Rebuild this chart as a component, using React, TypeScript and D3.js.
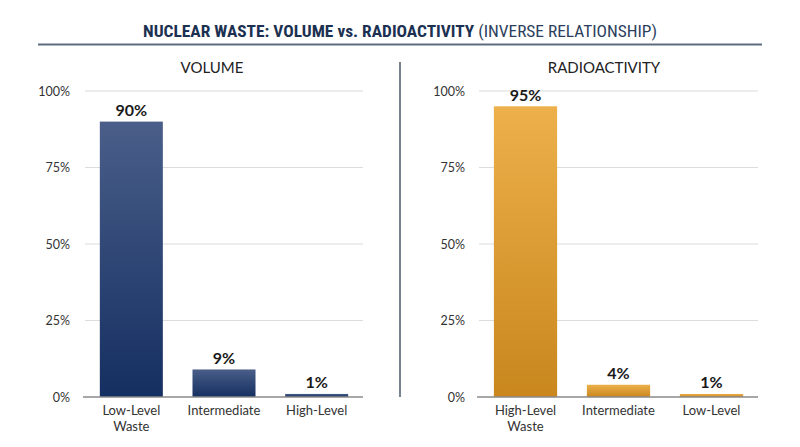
import { useMemo } from "react";
import * as d3 from "d3";

const volumeCategories = ["Low-Level|Waste", "Intermediate", "High-Level"];
const volumeValues = [90, 9, 1];
const radioCategories = ["High-Level|Waste", "Intermediate", "Low-Level"];
const radioValues = [95, 4, 1];
const yTicks = [0, 25, 50, 75, 100];

const W = 800;
const H = 447;
const FONT = "Lato, 'Open Sans', sans-serif";
const TITLE_FONT = "'Roboto Condensed', 'Liberation Sans Narrow', Roboto, sans-serif";

interface PanelProps {
  title: string;
  titleX: number;
  x0: number;
  x1: number;
  labelX: number;
  categories: string[];
  values: number[];
  gradId: string;
}

function Panel({ title, titleX, x0, x1, labelX, categories, values, gradId }: PanelProps) {
  const y = useMemo(() => d3.scaleLinear().domain([0, 100]).range([397, 91]), []);
  const x = useMemo(
    () =>
      d3
        .scaleBand<string>()
        .domain(categories)
        .range([x0, x1])
        .paddingInner(0.32)
        .paddingOuter(0.16),
    [categories, x0, x1]
  );

  return (
    <g>
      <text x={titleX} y={72.5} textAnchor="middle" fontSize={15} fill="#222" fontFamily={FONT}>
        {title}
      </text>
      {yTicks.map((t) => (
        <g key={t}>
          {t > 0 ? (
            <line x1={x0} x2={x1} y1={y(t)} y2={y(t)} stroke="#dcdcdc" strokeWidth={1.2} />
          ) : null}
          <text
            x={labelX}
            y={y(t) + 4.5}
            textAnchor="end"
            fontSize={12.5}
            fill="#333"
            fontFamily={FONT}
          >
            {t}%
          </text>
        </g>
      ))}
      {categories.map((c, i) => {
        const bx = x(c) ?? 0;
        const top = y(values[i]);
        return (
          <g key={c}>
            <rect
              x={bx}
              y={top}
              width={x.bandwidth()}
              height={y(0) - top}
              fill={`url(#${gradId})`}
            />
            <text
              x={bx + x.bandwidth() / 2}
              y={top - 5.5}
              textAnchor="middle"
              fontSize={16}
              fontWeight="bold"
              fill="#1a1a1a"
              fontFamily={FONT}
            >
              {values[i]}%
            </text>
            {c.split("|").map((line, j) => (
              <text
                key={line}
                x={bx + x.bandwidth() / 2}
                y={415 + j * 16}
                textAnchor="middle"
                fontSize={13}
                fill="#333"
                fontFamily={FONT}
              >
                {line}
              </text>
            ))}
          </g>
        );
      })}
      <line x1={x0 - 2} x2={x1} y1={y(0)} y2={y(0)} stroke="#8a8a8a" strokeWidth={1.5} />
    </g>
  );
}

export default function App() {
  return (
    <svg width={W} height={H} style={{ display: "block", margin: -8, background: "#fff" }}>
      <defs>
        <linearGradient id="navy-grad" x1="0" x2="0" y1="0" y2="1">
          <stop offset="0%" stopColor="#4a5e89" />
          <stop offset="100%" stopColor="#142f61" />
        </linearGradient>
        <linearGradient id="gold-grad" x1="0" x2="0" y1="0" y2="1">
          <stop offset="0%" stopColor="#edb04a" />
          <stop offset="100%" stopColor="#c9871e" />
        </linearGradient>
      </defs>
      <text
        x={400}
        y={37}
        textAnchor="middle"
        fontSize={16}
        fontFamily={TITLE_FONT}
        textLength={514}
        lengthAdjust="spacingAndGlyphs"
      >
        <tspan fontWeight="bold" fill="#1c3152">
          NUCLEAR WASTE: VOLUME vs. RADIOACTIVITY
        </tspan>
        <tspan fill="#2c3e5c"> (INVERSE RELATIONSHIP)</tspan>
      </text>
      <line x1={38} x2={762} y1={44.5} y2={44.5} stroke="#5d6d7e" strokeWidth={2} />
      <line x1={400} x2={400} y1={62} y2={397} stroke="#4a5a6a" strokeWidth={1.5} />
      <Panel
        title="VOLUME"
        titleX={212}
        x0={85}
        x1={363}
        labelX={70}
        categories={volumeCategories}
        values={volumeValues}
        gradId="navy-grad"
      />
      <Panel
        title="RADIOACTIVITY"
        titleX={604}
        x0={479}
        x1={758}
        labelX={465}
        categories={radioCategories}
        values={radioValues}
        gradId="gold-grad"
      />
    </svg>
  );
}
